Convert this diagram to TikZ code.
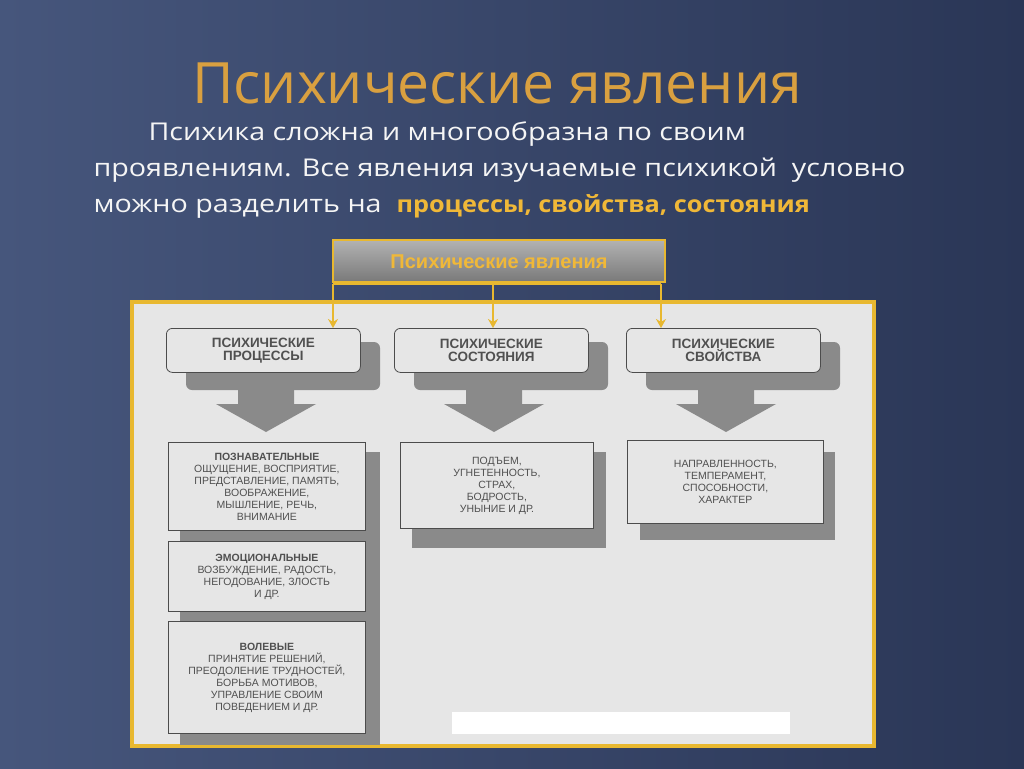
\documentclass[tikz,border=0pt]{standalone}
\usepackage{fontspec}
\setmainfont{Open Sans}
\newfontfamily\lsans{Liberation Sans}
\newfontfamily\bodyf[FakeStretch=1.17]{Open Sans}
\usetikzlibrary{shadings,arrows.meta}
\definecolor{gold}{HTML}{E8B830}
\definecolor{titlec}{HTML}{D9A040}
\definecolor{hl}{HTML}{F0B838}
\definecolor{panel}{HTML}{E6E6E6}
\definecolor{shad}{HTML}{8A8A8A}
\definecolor{txt}{HTML}{505050}
\definecolor{bgA}{HTML}{46567C}
\definecolor{bgB}{HTML}{2A3656}
\tikzset{
 hdr/.style={draw=black!70,line width=0.8pt,rounded corners=6pt,fill=panel,minimum width=194pt,minimum height=44pt,align=center,font=\lsans\bfseries\fontsize{13.5}{13}\selectfont,text=txt},
 cbox/.style={draw=black!70,line width=0.8pt,fill=panel,align=center,font=\lsans\fontsize{10.5}{12}\selectfont,text=txt,inner sep=2pt,anchor=north west},
 goldline/.style={draw=gold,line width=2pt},
 fat/.style={fill=shad}
}
\begin{document}
\begin{tikzpicture}[x=1pt,y=-1pt]
\useasboundingbox (0,0) rectangle (1024,768);
\shade[left color=bgA,right color=bgB] (0,0) rectangle (1024,768);
\node[text=titlec,font=\fontsize{57}{57}\selectfont] (title) at (497,83) {Психические явления};
\node[anchor=north west,text=white!92!gray,font=\bodyf\fontsize{24.5}{36}\selectfont,align=left] (body) at (90,118)
 {\hspace*{55pt}Психика сложна и многообразна по своим\\
 проявлениям. Все явления изучаемые психикой\ \ условно\\
 можно разделить на\ \ {\addfontfeature{FakeStretch=1.1}\color{hl}\bfseries\fontsize{23}{36}\selectfont процессы, свойства, состояния}};
% panel
\draw[draw=gold,line width=4pt,fill=panel] (132,302) rectangle (874,746);
\fill[white] (452,712) rectangle (790,734);
% top box
\shade[top color=gray!60,bottom color=gray!95!black,draw=gold] (333,240) rectangle (665,282);
\draw[gold,line width=2pt] (333,240) rectangle (665,282);
\node[text=hl,font=\lsans\bfseries\fontsize{20}{20}\selectfont] (top) at (499,262) {Психические явления};
\coordinate (b1) at (333,284); \coordinate (b2) at (493,284); \coordinate (b3) at (661,284);
\draw[goldline] (b1) -- (b3);
% headers
\foreach \x/\n/\t in {166/h1/{ПСИХИЧЕСКИЕ\\ПРОЦЕССЫ},394/h2/{ПСИХИЧЕСКИЕ\\СОСТОЯНИЯ},626/h3/{ПСИХИЧЕСКИЕ\\СВОЙСТВА}}{
 \fill[shad,rounded corners=6pt] (\x+20,342) rectangle (\x+214,390);
 \node[hdr,anchor=north west] (\n) at (\x,328) {\t};
 \fill[shad] (\x+72,388) rectangle (\x+128,404) -- (\x+150,404) -- (\x+100,432) -- (\x+50,404) -- cycle;
}
\draw[goldline,-{Stealth[length=9pt,width=10pt]}] (b1) -- (h1.north west-|b1);
\draw[goldline,-{Stealth[length=9pt,width=10pt]}] (b2) -- (h2.north-|b2);
\draw[goldline,-{Stealth[length=9pt,width=10pt]}] (b3) -- (h3.north-|b3);
% column 1
\fill[shad] (180,452) rectangle (380,745);
\node[cbox,minimum width=197pt,minimum height=88pt] (p1) at (168,442) {\bfseries ПОЗНАВАТЕЛЬНЫЕ\\ОЩУЩЕНИЕ, ВОСПРИЯТИЕ,\\ПРЕДСТАВЛЕНИЕ, ПАМЯТЬ,\\ВООБРАЖЕНИЕ,\\МЫШЛЕНИЕ, РЕЧЬ,\\ВНИМАНИЕ};
\node[cbox,minimum width=197pt,minimum height=70pt] (p2) at (168,541) {\bfseries ЭМОЦИОНАЛЬНЫЕ\\ВОЗБУЖДЕНИЕ, РАДОСТЬ,\\НЕГОДОВАНИЕ, ЗЛОСТЬ\\И ДР.};
\node[cbox,minimum width=197pt,minimum height=112pt] (p3) at (168,621) {\bfseries ВОЛЕВЫЕ\\ПРИНЯТИЕ РЕШЕНИЙ,\\ПРЕОДОЛЕНИЕ ТРУДНОСТЕЙ,\\БОРЬБА МОТИВОВ,\\УПРАВЛЕНИЕ СВОИМ\\ПОВЕДЕНИЕМ И ДР.};
% column 2
\fill[shad] (412,452) rectangle (606,548);
\node[cbox,minimum width=193pt,minimum height=86pt] (s1) at (400,442) {ПОДЪЕМ,\\УГНЕТЕННОСТЬ,\\СТРАХ,\\БОДРОСТЬ,\\УНЫНИЕ И ДР.};
% column 3
\fill[shad] (640,452) rectangle (835,540);
\node[cbox,minimum width=196pt,minimum height=83pt] (v1) at (627,440) {НАПРАВЛЕННОСТЬ,\\ТЕМПЕРАМЕНТ,\\СПОСОБНОСТИ,\\ХАРАКТЕР};
\end{tikzpicture}
\end{document}
